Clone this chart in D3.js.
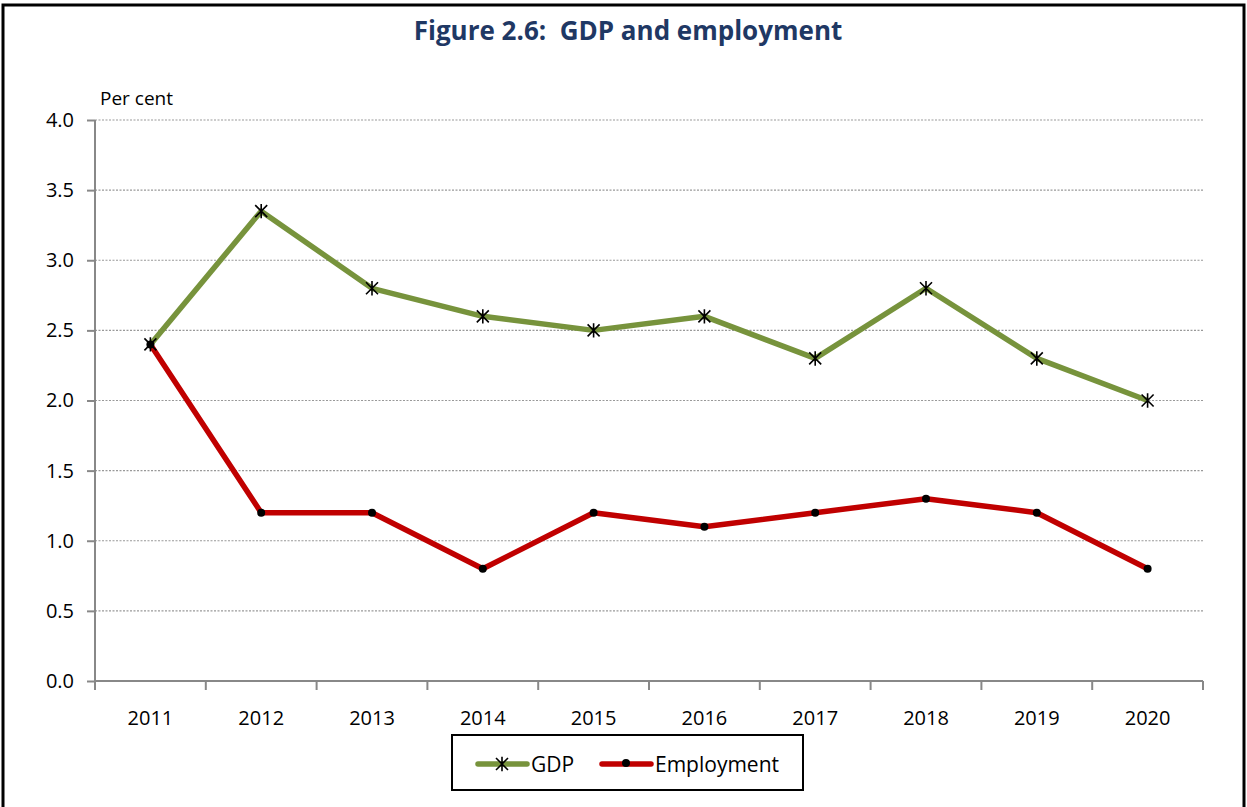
<!DOCTYPE html>
<html>
<head>
<meta charset="utf-8">
<script src="https://cdn.jsdelivr.net/npm/d3@7"></script>
<style>
  body { margin: 0; background: #fff; }
  text { font-family: "Open Sans", "Liberation Sans", sans-serif; white-space: pre; }
</style>
</head>
<body>
<script>
/* DATA */
var years = ["2011", "2012", "2013", "2014", "2015", "2016", "2017", "2018", "2019", "2020"];
var gdp = [2.4, 3.35, 2.8, 2.6, 2.5, 2.6, 2.3, 2.8, 2.3, 2.0];
var employment = [2.4, 1.2, 1.2, 0.8, 1.2, 1.1, 1.2, 1.3, 1.2, 0.8];
var yTicks = [0, 0.5, 1, 1.5, 2, 2.5, 3, 3.5, 4];

var W = 1247, H = 807;
var margin = {top: 120, right: 44, bottom: 126, left: 95},
    width = W - margin.left - margin.right,
    height = H - margin.top - margin.bottom;

var svg = d3.select("body").append("svg")
    .attr("width", W)
    .attr("height", H);

// outer frame
svg.append("rect")
    .attr("x", 3).attr("y", 5)
    .attr("width", W - 6).attr("height", H + 10)
    .attr("fill", "none")
    .attr("stroke", "#000")
    .attr("stroke-width", 3);

// title
svg.append("text")
    .attr("x", 628).attr("y", 40)
    .attr("text-anchor", "middle")
    .style("font-size", "26px")
    .style("font-weight", "bold")
    .attr("fill", "#1f3864")
    .text("Figure 2.6:  GDP and employment");

var g = svg.append("g")
    .attr("transform", "translate(" + margin.left + "," + margin.top + ")");

// scales
var x = d3.scaleBand().domain(years).range([0, width]);
var y = d3.scaleLinear().domain([0, 4]).range([height, 0]);

// gridlines
g.selectAll(".grid")
  .data(yTicks.filter(d => d > 0))
  .enter().append("line")
    .attr("x1", 0).attr("x2", width)
    .attr("y1", d => y(d)).attr("y2", d => y(d))
    .attr("stroke", "#999")
    .attr("stroke-width", 1.2)
    .attr("stroke-dasharray", "2,1.5");

// y axis
var yAxis = g.append("g")
    .call(d3.axisLeft(y).tickValues(yTicks).tickFormat(d3.format(".1f")).tickSize(8).tickPadding(13));
yAxis.select(".domain").attr("stroke", "#888").attr("stroke-width", 2).attr("d", "M0," + y(4) + "V" + height);
yAxis.selectAll(".tick line").attr("stroke", "#888").attr("stroke-width", 2);
yAxis.selectAll("text").style("font-size", "20px").attr("fill", "#000");

// x axis
var xAxis = g.append("g")
    .attr("transform", "translate(0," + height + ")")
    .call(d3.axisBottom(x).tickSize(0).tickPadding(30));
xAxis.select(".domain").attr("stroke", "#888").attr("stroke-width", 2).attr("d", "M0,0H" + width);
xAxis.selectAll("text").style("font-size", "20px").attr("fill", "#000");
// category boundary ticks
xAxis.selectAll(".bound")
  .data(d3.range(years.length + 1))
  .enter().append("line")
    .attr("x1", i => i * x.step()).attr("x2", i => i * x.step())
    .attr("y1", 0).attr("y2", 9)
    .attr("stroke", "#888").attr("stroke-width", 2);

// axis label
svg.append("text")
    .attr("x", 100).attr("y", 105)
    .style("font-size", "19px")
    .attr("fill", "#000")
    .text("Per cent");

var cx = d => x(d) + x.bandwidth() / 2;

var line = d3.line()
    .x((d, i) => cx(years[i]))
    .y(d => y(d));

g.append("path")
    .datum(employment)
    .attr("d", line)
    .attr("fill", "none")
    .attr("stroke", "#c00000")
    .attr("stroke-width", 5.5)
    .attr("stroke-linejoin", "round");

g.append("path")
    .datum(gdp)
    .attr("d", line)
    .attr("fill", "none")
    .attr("stroke", "#77933c")
    .attr("stroke-width", 5.5)
    .attr("stroke-linejoin", "round");

// markers
function star(sel, px, py, r) {
  var p = "M" + (px - r) + "," + (py - r) + "L" + (px + r) + "," + (py + r) +
          "M" + (px - r) + "," + (py + r) + "L" + (px + r) + "," + (py - r) +
          "M" + px + "," + (py - r * 1.2) + "L" + px + "," + (py + r * 1.2);
  sel.append("path").attr("d", p).attr("stroke", "#000").attr("stroke-width", 1.6).attr("fill", "none");
}

g.selectAll(".emp")
  .data(employment)
  .enter().append("circle")
    .attr("cx", (d, i) => cx(years[i]))
    .attr("cy", d => y(d))
    .attr("r", 4)
    .attr("fill", "#000");

gdp.forEach((d, i) => star(g, cx(years[i]), y(d), 6));

// legend
var lg = svg.append("g");
lg.append("rect")
    .attr("x", 452).attr("y", 735)
    .attr("width", 351).attr("height", 55)
    .attr("fill", "#fff")
    .attr("stroke", "#000")
    .attr("stroke-width", 2);
lg.append("line").attr("x1", 478).attr("x2", 527).attr("y1", 764).attr("y2", 764)
    .attr("stroke", "#77933c").attr("stroke-width", 5.5).attr("stroke-linecap", "round");
star(lg, 502, 764, 6);
lg.append("text").attr("x", 531).attr("y", 772).style("font-size", "21px").text("GDP");
lg.append("line").attr("x1", 602).attr("x2", 651).attr("y1", 764).attr("y2", 764)
    .attr("stroke", "#c00000").attr("stroke-width", 5.5).attr("stroke-linecap", "round");
lg.append("circle").attr("cx", 626).attr("cy", 763).attr("r", 4).attr("fill", "#000");
lg.append("text").attr("x", 655).attr("y", 772).style("font-size", "21px").text("Employment");
</script>
</body>
</html>
